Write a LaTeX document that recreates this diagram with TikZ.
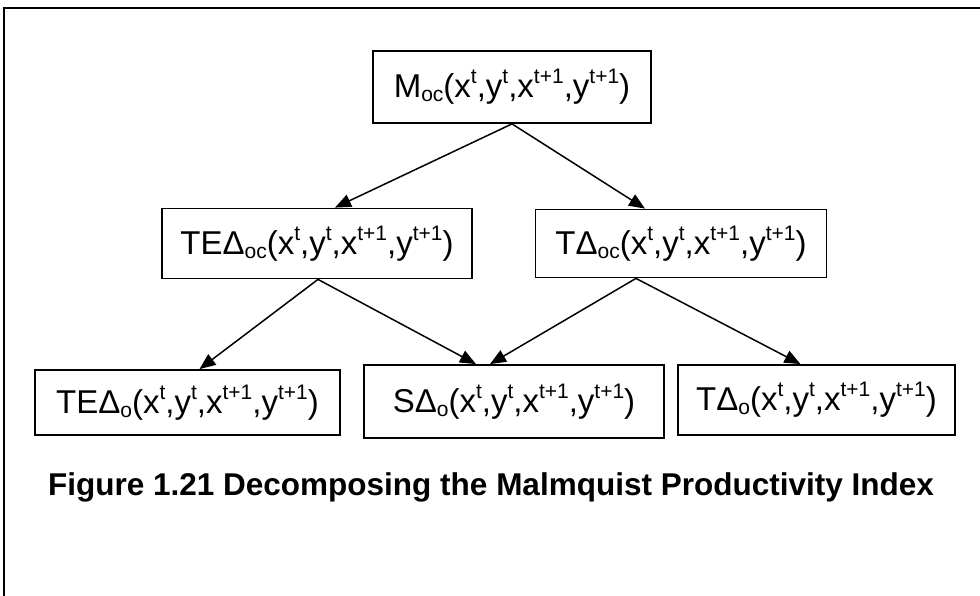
\documentclass[tikz,border=0pt]{standalone}
\usepackage{fontspec}
\setmainfont{Liberation Sans}
\usetikzlibrary{arrows.meta}
\newcommand\SUPx[1]{\raisebox{0.42em}{\fontsize{21}{21}\selectfont #1}}
\newcommand\SUBx[1]{\raisebox{-0.12em}{\fontsize{21}{21}\selectfont #1}}
\newcommand\ARGS{(x\SUPx{t},y\SUPx{t},x\SUPx{t+1},y\SUPx{t+1})}
\begin{document}
\begin{tikzpicture}[x=1pt,y=-1pt,
  box/.style={draw,line width=1.8pt,inner sep=0pt,font=\fontsize{33}{38}\selectfont},
  arr/.style={line width=1.5pt,-{Triangle[length=16pt,width=13pt]}}]
\useasboundingbox (0,0) rectangle (980,596);
\draw[line width=2pt] (4,596) -- (4,8) -- (980,8);
\node[box,minimum width=278pt,minimum height=72pt] (top) at (512,87) {M\SUBx{oc}\ARGS};
\node[box,minimum width=310pt,minimum height=70pt] (ml) at (317,243.5) {TEΔ\SUBx{oc}\ARGS};
\node[box,minimum width=291pt,minimum height=68pt] (mr) at (681,243.5) {TΔ\SUBx{oc}\ARGS};
\node[box,minimum width=305pt,minimum height=65pt] (bl) at (187.5,402.5) {TEΔ\SUBx{o}\ARGS};
\node[box,minimum width=300pt,minimum height=73pt] (bm) at (514,401.5) {SΔ\SUBx{o}\ARGS};
\node[box,minimum width=277pt,minimum height=70pt] (br) at (816.5,400) {TΔ\SUBx{o}\ARGS};
\node[font=\bfseries\fontsize{31.5}{36}\selectfont] (cap) at (491,487) {Figure 1.21 Decomposing the Malmquist Productivity Index};
\draw[arr] (top.south) -- ([xshift=18pt]ml.north);
\draw[arr] (top.south) -- ([xshift=-36pt]mr.north);
\draw[arr] ([xshift=1pt]ml.south) -- ([xshift=12pt]bl.north);
\draw[arr] ([xshift=1pt]ml.south) -- ([xshift=-38pt]bm.north);
\draw[arr] ([xshift=-45pt]mr.south) -- ([xshift=-24pt]bm.north);
\draw[arr] ([xshift=-45pt]mr.south) -- ([xshift=-16pt]br.north);
\end{tikzpicture}
\end{document}
